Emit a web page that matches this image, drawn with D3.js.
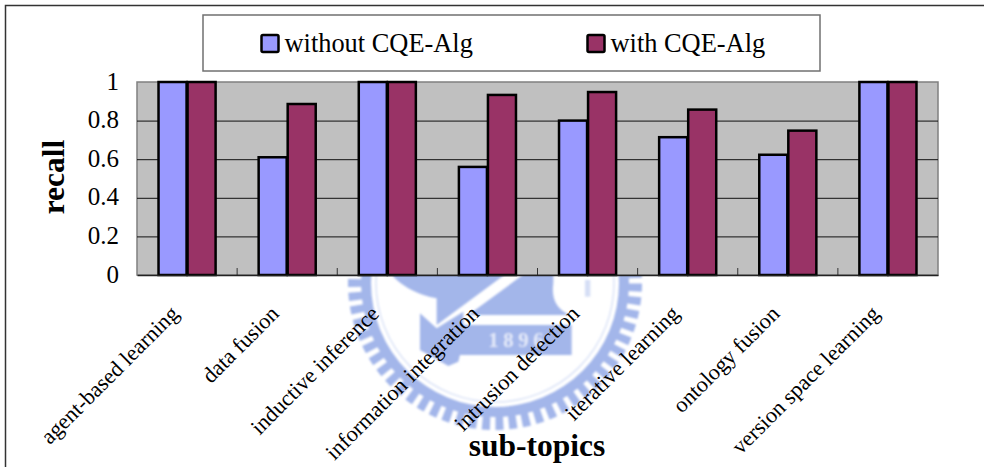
<!DOCTYPE html>
<html>
<head>
<meta charset="utf-8">
<script src="https://cdn.jsdelivr.net/npm/d3@7"></script>
<style>
  html, body { margin: 0; padding: 0; background: #fff; overflow: hidden; }
  text { font-family: "Liberation Serif", serif; fill: #000; }
</style>
</head>
<body>
<div id="chart"></div>
<script>
const categories = ["agent-based learning", "data fusion", "inductive inference", "information integration",
  "intrusion detection", "iterative learning", "ontology fusion", "version space learning"];
const withoutAlg = [1, 0.61, 1, 0.56, 0.8, 0.714, 0.623, 1];
const withAlg = [1, 0.886, 1, 0.933, 0.948, 0.857, 0.748, 1];
const seriesNames = ["without CQE-Alg", "with CQE-Alg"];
const seriesColors = ["#9999ff", "#993366"];
const yTicks = [0, 0.2, 0.4, 0.6, 0.8, 1];

const width = 984, height = 467;
const plot = { left: 137, right: 938, top: 82, bottom: 275 };

const svg = d3.select("#chart").append("svg").attr("width", width).attr("height", height);

// watermark behind the chart, shapes traced in a 3x crop of the logo area
const logoBlue = "#a3b6ea";
svg.append("defs").append("filter").attr("id", "soft")
  .append("feGaussianBlur").attr("stdDeviation", 0.8);
const logo = svg.append("g").attr("filter", "url(#soft)");
const cx = 495, cy = 283;
const ring = d3.arc();
logo.append("path").attr("transform", `translate(${cx},${cy})`).attr("fill", logoBlue)
  .attr("d", ring({ innerRadius: 124, outerRadius: 134, startAngle: 0, endAngle: 2 * Math.PI }));
logo.append("g").attr("transform", `translate(${cx},${cy})`)
  .selectAll("path").data(d3.range(0, 360, 5.4)).enter().append("path")
  .attr("fill", logoBlue)
  .attr("d", a => ring({
    innerRadius: 133, outerRadius: 147,
    startAngle: (a - 1.6) * Math.PI / 180, endAngle: (a + 1.6) * Math.PI / 180
  }));
logo.append("circle").attr("cx", cx).attr("cy", cy).attr("r", 119)
  .attr("fill", "none").attr("stroke", "#dbe3f7").attr("stroke-width", 1.5);

const crop = logo.append("g").attr("transform", "translate(340,270) scale(0.3333)");
const logoShapes = [
  "M160,0 L640,0 L640,40 Q630,110 690,135 L385,135 L555,10 L500,10 L290,165 L290,85 Q210,70 160,20 Z",
  "M240,130 L290,175 L370,125 L370,165 L695,165 L695,255 L370,255 L360,255 L355,275 L325,288 L240,240 Z"
];
crop.selectAll("path").data(logoShapes).enter().append("path")
  .attr("d", d => d).attr("fill", logoBlue);
crop.append("rect").attr("x", 735).attr("y", 30).attr("width", 16).attr("height", 50).attr("fill", "#d5def5");
crop.append("text").attr("x", 535).attr("y", 232).attr("text-anchor", "middle")
  .attr("font-size", 62).attr("font-weight", "bold").style("fill", "#e3e9f9")
  .style("letter-spacing", "14px").text("1896");

// outer frame, only top and left sides are in the picture
svg.append("path").attr("d", `M5.5,${height} V5.5 H${width}`)
  .attr("fill", "none").attr("stroke", "#333").attr("stroke-width", 1.5);

const x0 = d3.scaleBand().domain(categories).range([plot.left, plot.right])
  .paddingInner(0.42).paddingOuter(0.21);
const x1 = d3.scaleBand().domain(seriesNames).range([0, x0.bandwidth()]);
const y = d3.scaleLinear().domain([0, 1]).range([plot.bottom, plot.top]);

svg.append("rect").attr("x", plot.left).attr("y", plot.top)
  .attr("width", plot.right - plot.left).attr("height", plot.bottom - plot.top)
  .attr("fill", "#c0c0c0").attr("stroke", "#808080").attr("stroke-width", 1.5);

// gridlines and y labels
const yAxis = svg.append("g").attr("transform", `translate(${plot.left},0)`)
  .call(d3.axisLeft(y).tickValues(yTicks).tickFormat(d3.format("~g"))
    .tickSize(-(plot.right - plot.left)).tickPadding(18));
yAxis.select(".domain").remove();
yAxis.selectAll("line").attr("stroke", "#111").attr("stroke-width", 1)
  .filter(d => d === 0 || d === 1).remove();
yAxis.selectAll("text").attr("font-size", 25).attr("font-family", "Liberation Serif").attr("dy", "0.28em");

// ticks between the groups point up into the plot
svg.append("g").selectAll("line").data(categories.slice(1)).enter().append("line")
  .attr("x1", d => x0(d) - x0.step() * 0.21).attr("x2", d => x0(d) - x0.step() * 0.21)
  .attr("y1", plot.bottom).attr("y2", plot.bottom - 7)
  .attr("stroke", "#333").attr("stroke-width", 1);

const groups = svg.append("g").selectAll("g").data(categories).enter().append("g")
  .attr("transform", d => `translate(${x0(d)},0)`);
[withoutAlg, withAlg].forEach((vals, s) => {
  groups.append("rect")
    .attr("x", x1(seriesNames[s]) + 0.5)
    .attr("y", (d, i) => y(vals[i]))
    .attr("width", x1.bandwidth() - 1)
    .attr("height", (d, i) => y(0) - y(vals[i]))
    .attr("fill", seriesColors[s]).attr("stroke", "#000").attr("stroke-width", 2.5);
});

// x axis with slanted labels
const xAxis = svg.append("g").attr("transform", `translate(0,${plot.bottom})`)
  .call(d3.axisBottom(x0).tickSize(0).tickPadding(0));
xAxis.select(".domain").attr("stroke", "#222").attr("stroke-width", 1.5);
xAxis.selectAll("text")
  .attr("font-size", 22.2).attr("font-family", "Liberation Serif")
  .attr("text-anchor", "end").attr("dy", 0)
  .attr("transform", "translate(-7,40) rotate(-45)");

// legend
svg.append("rect").attr("x", 203).attr("y", 15).attr("width", 617).attr("height", 56)
  .attr("fill", "#fff").attr("stroke", "#707070").attr("stroke-width", 1.5);
const legendX = d3.scaleOrdinal().domain(seriesNames).range([261.5, 587.5]);
const legend = svg.append("g").selectAll("g").data(seriesNames).enter().append("g")
  .attr("transform", d => `translate(${legendX(d)},35)`);
legend.append("rect").attr("width", 17).attr("height", 17).attr("rx", 1.5)
  .attr("fill", (d, i) => seriesColors[i]).attr("stroke", "#000").attr("stroke-width", 2.5);
legend.append("text").attr("x", 23).attr("y", 17).attr("font-size", 26.4).text(d => d);

// axis titles
svg.append("text").attr("transform", "translate(64,177) rotate(-90)").attr("text-anchor", "middle")
  .attr("font-size", 31.5).attr("font-weight", "bold").text("recall");
svg.append("text").attr("x", 537).attr("y", 456).attr("text-anchor", "middle")
  .attr("font-size", 31.5).attr("font-weight", "bold").text("sub-topics");
</script>
</body>
</html>
